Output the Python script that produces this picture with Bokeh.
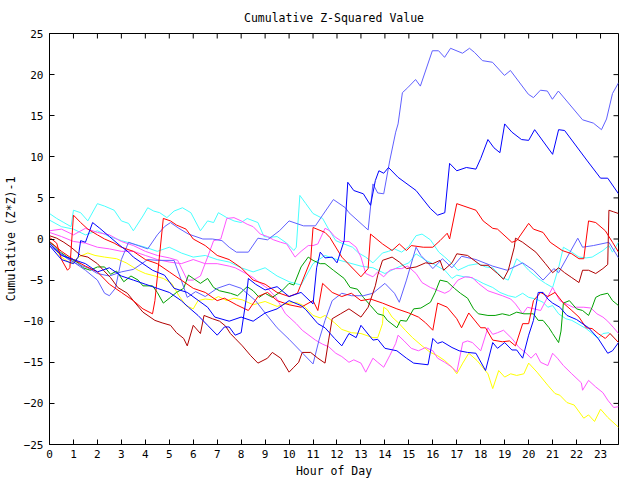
import math
from bokeh.plotting import figure
from bokeh.models import FixedTicker, ColumnDataSource
from bokeh.embed import file_html
from bokeh.resources import INLINE

# ---- data: (hour, cumulative value) vertices ----
hours_blue1 = [0,0.5,1,1.5,2,2.5,3,3.5,4,4.5,5,5.5,5.8,6.2,6.6,7.0,7.3,7.5,7.75,8.0,8.2,8.3,8.6,9,9.5,10,10.5,11.0,11.15,11.3,11.5,11.8,12,12.3,12.45,12.7,13.1,13.4,13.6,13.75,13.95,14.15,14.55,15.3,15.9,16.2,16.5,16.7,17,17.4,17.8,18,18.3,18.55,18.8,19.0,19.3,19.7,20.0,20.25,21.0,21.25,21.5,22.45,23,23.3,23.75]
vals_blue1  = [-0.5,-2,-2.5,-3,-4,-3.5,-4.5,-5,-5.5,-6,-6.5,-7.5,-8.3,-9.3,-10.5,-11.7,-10.7,-10.7,-11.7,-11.4,-7.5,-4.8,-5.5,-6.2,-5.8,-7,-6.5,-7.9,-3.5,-1.6,-2.3,-2.2,-2.9,-0.2,6.9,5.9,5.5,4.1,7.1,8.3,8.0,8.7,7.5,5.9,3.7,2.9,3.2,9.2,8.3,8.7,8.5,9.8,12.1,11.1,10.5,14.0,13.0,12.1,12.0,13.3,10.3,13.3,13.2,9.5,7.4,7.4,5.5]

hours_blue2 = [0,0.5,1.0,1.2,1.3,1.5,1.8,2.1,2.5,2.9,3.3,3.5,4.3,4.8,5.2,5.75,6.6,6.9,7.5,8,8.5,9,9.5,10,10.5,10.7,11.2,11.5,11.9,12.2,12.5,12.8,13,13.5,13.7,14,14.5,14.9,15.2,15.8,16,16.2,16.4,16.8,17.1,17.45,17.8,18.2,18.5,18.7,19,19.3,19.5,19.75,20.0,20.2,20.4,20.6,20.8,21,21.3,21.6,22,22.5,22.9,23.3,23.5,23.75]
vals_blue2  = [-0.8,-2.5,-3.0,-2.2,-0.2,-0.4,2.0,1.3,0.3,-0.7,-1.6,-2.2,-3.8,-4.4,-6.0,-6.5,-8.3,-9.5,-10,-9.5,-10,-9,-8.5,-7.5,-8.1,-8.6,-10.3,-10.8,-12.1,-13.0,-11.5,-12,-10.5,-12.3,-12.2,-13.3,-13.6,-14.5,-15.1,-15.3,-12.1,-12.7,-12.5,-13.2,-13.6,-13.8,-13.9,-16,-12.6,-13.3,-12.6,-13.5,-13.5,-14.5,-11.7,-9.9,-6.5,-6.5,-7.3,-7.8,-8.3,-9.3,-9.8,-10.8,-12.1,-13.9,-13.6,-12.6]

hours_slate1 = [0,0.5,1,1.5,2,2.3,2.5,2.75,3.0,3.3,3.7,4.1,4.5,4.8,5.05,5.4,5.8,6.4,6.8,7.2,7.5,7.8,8.3,8.7,9.1,9.6,10,10.6,11.1,11.4,11.85,12.35,12.5,13.3,13.5,13.7,13.95,14.2,14.45,14.55,14.73,14.95,15.28,15.48,15.98,16.24,16.49,16.74,17.24,17.53,17.74,18.07,18.49,18.99,19.24,19.99,20.2,20.49,20.78,20.99,21.24,22.25,22.7,23.04,23.25,23.5,23.75]
vals_slate1  = [-0.6,-1.8,-2.8,-3.8,-5.0,-6.6,-6.9,-6.0,-2.5,-0.4,-0.8,-1.2,0.5,1.5,2.0,1.3,0.6,0,0,-0.2,-1,-1.6,-1.6,0.1,-0.1,1.0,2.2,1.6,1.6,2.9,4.8,3.8,3.2,1.1,6.7,5.6,5.5,9.5,13,14,17.8,18.4,19.4,18.6,22.9,22.9,22.1,23.2,22.6,23.2,22.7,21.7,21.5,19.9,20.5,17.6,17.2,18.1,18.0,17.0,18.0,14.5,14.1,13.3,14.6,17.7,19.0]

hours_slate2 = [0,0.4,0.8,1.2,1.6,2,2.5,3,3.5,4.1,4.5,5.2,5.5,5.75,6.1,6.5,7,7.5,8,8.6,9,9.5,10,10.5,11,11.25,11.5,11.8,12.2,12.6,13.1,13.5,14,14.4,14.6,14.9,15.3,15.5,15.7,16,16.4,16.8,17.2,17.8,18.5,19.1,19.75,20.2,20.6,21.05,21.25,22.05,22.25,22.7,23.35,23.75]
vals_slate2  = [-0.8,-1.7,-2.5,-3.1,-3.5,-4.2,-4.5,-4.0,-3.7,-2.5,-2.6,-2.6,-5.0,-7.1,-6.4,-7.0,-6,-5.5,-6.0,-7.5,-9.0,-10.8,-12.2,-13.7,-15.2,-12.3,-9.9,-7.5,-6.6,-6.9,-6.9,-6.6,-5.4,-6.6,-7.7,-5.0,-1.0,-2.0,-2.6,-3.6,-2.4,-3.5,-2.1,-2.5,-3.3,-3.8,-2.9,-3.8,-5.0,-3.6,-4.1,0.1,-1.0,-0.8,-0.4,-2.3]

hours_red1 = [0,0.5,1,1.5,2,2.5,3,3.5,3.9,4.3,4.4,4.75,5.05,5.3,5.7,6,6.5,7,7.5,8,8.5,9,9.5,10,10.35,10.9,11,11.5,11.7,12.2,13,13.3,13.4,13.9,14.3,14.6,14.9,15.1,15.6,16,16.3,16.6,16.7,17,17.3,17.8,18.1,18.5,18.7,19.3,19.5,20,20.2,20.6,20.9,21.4,21.8,22.1,22.3,22.5,22.8,23.2,23.5,23.75]
vals_red1  = [-0.3,-1.5,-2.5,-3.3,-4,-5.5,-6.5,-7.5,-8.5,-9.1,-7.5,2.5,2.2,1.7,1.2,0,-0.8,-2,-2.5,-3.5,-5,-5.5,-6.5,-7,-6.6,-2.6,1.4,0.8,0.2,-2.2,-4.6,-3.6,0.6,-0.6,-1.4,-0.6,-1.4,-0.8,-1.0,-1.0,-0.2,0.7,0,4.3,4.0,3.5,2.2,1.3,1.2,-0.4,-0.2,1.9,1.2,0.8,-0.4,-1.4,-1.8,-2.4,-2.4,2.2,2.0,1.0,-0.4,-1.6]

hours_red2 = [0,0.3,0.5,0.75,0.85,1.0,1.3,1.6,2,2.3,2.7,3,3.5,4,4.5,5,5.5,6,6.5,7,7.3,7.8,8.3,8.7,9.1,9.5,10,10.5,11,11.2,11.4,11.8,12.2,12.6,13,13.4,13.9,14.5,15,15.4,15.7,16,16.2,16.6,17,17.2,17.5,18,18.2,18.5,18.9,19.2,19.45,19.75,20,20.2,20.5,20.8,21.1,21.45,21.8,22.1,22.4,22.65,22.9,23.2,23.4,23.75]
vals_red2  = [0.2,-0.5,-2.5,-3.8,-3.5,2.9,2.0,1.2,0.5,0,-0.5,-1,-1.5,-2.5,-3,-4,-5,-6,-6.5,-7.5,-7.2,-8,-8.7,-7,-6.5,-7.5,-8,-8.3,-7.5,-8.7,-5.4,-6.5,-7,-6.6,-7.5,-7.3,-7.8,-8.5,-9,-9.5,-10.2,-11.1,-7.8,-8.3,-9.7,-10.8,-9.0,-10.8,-10.8,-12.3,-12.5,-12.4,-13,-10.3,-10.3,-7.5,-6.5,-7,-6.5,-7.8,-8.7,-9.5,-10.8,-10.9,-11.5,-12.1,-11.5,-12.6]

hours_darkred = [0,0.3,0.6,0.9,1.3,1.6,2,2.25,2.55,2.85,3.25,3.5,3.9,4.4,4.7,5.05,5.3,5.6,5.75,6,6.3,6.45,6.8,7.1,7.35,7.55,7.75,8.05,8.4,8.7,9.1,9.3,9.65,10,10.2,10.4,10.55,10.9,11.2,11.5,11.65,11.8,12.15,12.5,13,13.3,13.6,13.7,13.9,14.3,14.6,14.9,15.3,15.7,16,16.3,16.45,16.8,17,17.45,18,18.3,18.7,18.95,19.15,19.4,19.45,19.75,20.3,20.7,21,21.25,21.5,21.8,22.1,22.25,22.5,22.8,23.1,23.3,23.35,23.55,23.75]
vals_darkred  = [0.4,0.1,-0.4,-1,-2,-2.2,-3,-3.8,-4.7,-5.9,-6.6,-7.5,-8.9,-9.9,-10.2,-10.5,-11.4,-12.1,-13,-10.5,-11.5,-9.3,-9.7,-10,-10.6,-11.5,-12.1,-13,-14.2,-15.1,-14.5,-13.8,-14.5,-16.2,-15.6,-15,-13.8,-13.8,-14.5,-15.1,-12.3,-9.7,-9.1,-8.5,-9.5,-8.3,-5.7,-4.4,-2.6,-2.2,-2.8,-3.6,-3.4,-2.9,-3.0,-2.6,-3.8,-2.9,-1.8,-2.0,-3.2,-3.2,-4.2,-4.9,-3.8,-1.0,0.1,-0.4,-1.6,-3,-4.1,-3.5,-4.1,-4.7,-5.3,-3.8,-3.8,-4.2,-3.6,-3.1,3.5,3.3,3.1]

hours_green = [0,0.2,0.45,0.75,1,1.2,1.4,1.7,2,2.3,2.55,2.8,3.1,3.4,3.7,3.9,4.3,4.5,4.75,5.05,5.3,5.6,5.8,6,6.3,6.6,6.85,7.1,7.55,7.85,8.25,8.5,8.75,9,9.3,9.7,10,10.2,10.5,10.8,11,11.3,11.5,11.85,12.3,12.55,12.85,13.1,13.4,13.7,13.95,14.1,14.5,14.65,14.9,15.2,15.5,15.9,16.1,16.3,16.6,16.9,17.15,17.45,17.7,17.9,18.3,18.6,18.9,19.2,19.5,19.8,20.2,20.4,20.6,20.85,21,21.25,21.35,21.45,21.7,22,22.25,22.5,22.65,22.8,23,23.3,23.5,23.75]
vals_green  = [-0.4,-0.8,-1.6,-2.2,-2.6,-2.9,-3.5,-3.8,-3.4,-3.4,-4.3,-3.9,-5.2,-4.5,-5.0,-5.7,-5.7,-6.5,-7.8,-7.1,-6.5,-6,-4.4,-4.8,-5.4,-4.8,-5.9,-6.3,-6.6,-6.9,-5.8,-6.3,-7.1,-6.6,-7.1,-6.3,-5.4,-5.6,-3.4,-2.2,-2.6,-3.0,-3.0,-3.8,-4.8,-5.9,-6.1,-7.1,-8.1,-9.1,-9.3,-9.9,-10.8,-9.9,-10.0,-8.5,-8.4,-7.7,-6.5,-5.0,-5.2,-6.0,-6.6,-7.2,-8.5,-9.1,-9.3,-9.3,-9.1,-9.3,-8.9,-9.1,-9.1,-9.9,-9.9,-10.8,-11.5,-12.6,-11.2,-7.8,-7.5,-8.5,-8.7,-9.3,-8.3,-7.1,-6.8,-6.6,-7.5,-8.1]

hours_yellow = [0,0.5,0.9,1.2,1.6,1.9,2.3,2.8,3.2,3.7,4,4.4,4.75,5.1,5.4,5.7,6,6.2,6.5,6.8,7.05,7.4,7.7,8.05,8.5,9,9.5,10,10.3,10.6,11,11.3,11.5,11.9,12.2,12.6,13,13.5,13.7,13.9,13.95,14.1,14.3,14.6,14.85,15.15,15.55,15.9,16.2,16.5,16.8,17,17.25,17.5,17.85,18.3,18.5,18.75,19,19.25,19.5,19.8,20,20.35,20.8,21.1,21.3,21.6,21.9,22.3,22.5,22.75,23,23.3,23.75]
vals_yellow  = [-0.5,-2.2,-3,-2.2,-1.7,-2,-2.2,-2.4,-2.9,-3.8,-4.2,-4.5,-4.8,-5.4,-6.9,-8.1,-8.5,-7.5,-7.3,-7.4,-7,-7.5,-7.2,-7.4,-8,-7.6,-8.2,-7.8,-7.7,-8.1,-9.3,-9.6,-9.3,-10.2,-11,-11.4,-11.5,-12,-12,-10.3,-8.3,-8.6,-9.5,-10.3,-11.1,-12,-13,-13.8,-14.2,-14.8,-15.6,-16.4,-15.1,-13.9,-14.8,-16.4,-18.2,-16,-16.8,-16.4,-16.6,-16.4,-15.1,-16.2,-17.8,-18.8,-19,-19.9,-20.2,-21.8,-21.4,-22.2,-20.7,-21.7,-22.9]

hours_cyan1 = [0,0.3,0.6,0.9,1.0,1.3,1.6,2.0,2.3,2.7,3.0,3.3,3.5,3.9,4.1,4.35,4.6,4.9,5.2,5.55,5.9,6.3,6.6,6.85,7.05,7.4,7.7,8.0,8.25,8.7,8.95,9.2,9.5,9.9,10.2,10.3,10.45,10.7,11,11.4,11.65,11.95,12.2,12.65,12.9,13.2,13.5,13.9,14.15,14.4,14.7,15,15.3,15.55,15.9,16.25,16.5,16.8,17.05,17.5,17.9,18.2,18.5,18.9,19.15,19.5,19.75,20,20.4,20.7,21,21.25,21.45,21.8,22.1,22.4,22.65,23.1,23.35,23.5,23.75]
vals_cyan1  = [3.1,2.5,2.0,1.5,3.5,3.2,2.2,4.3,4.0,3.5,2.2,1.9,1.0,2.8,3.8,3.4,3.2,2.6,3.4,3.8,3.2,1.0,2.2,2.0,3.2,2.6,2.2,2.0,2.5,2.0,0.3,0.2,0.3,-0.5,-1.4,-1.0,5.3,4.3,3.1,2.5,1.2,-0.2,-0.5,-1.0,-1.7,-2.2,-2.9,-1.7,-1.5,-1.2,-1.6,-0.9,0.4,0.6,-0.1,-1.6,-2.2,-3,-3.8,-3.2,-3.0,-3.4,-3.5,-4.7,-5.0,-2.4,-3.0,-3.8,-4.8,-5.4,-5.9,-3.5,-1.0,-1.6,-2.2,-2.3,-2.2,-1.4,-0.8,-1.6,-0.4]

hours_cyan2 = [0,0.5,1,1.5,2,2.5,3,3.5,4,4.5,5,5.5,6,6.5,7,7.5,8,8.5,9,9.5,10,10.5,11,11.5,12,12.5,13,13.5,14,14.5,15,15.3,15.7,16,16.3,16.5,16.8,17.0,17.3,17.5,17.85,18.1,18.5,18.8,19.15,19.45,19.75,20,20.3,20.6,20.8,21,21.25,21.55,21.8,22.1,22.4,22.65,22.9,23.1,23.35,23.55,23.75]
vals_cyan2  = [2.3,1.5,1.2,0.5,1,0.3,-0.2,-0.6,-1,-1.5,-1,-1.7,-2.2,-2,-2.5,-2.8,-3.5,-4,-3.5,-4.5,-5.2,-5.6,-3,-2,-2.5,-2.9,-3.3,-3.5,-4.2,-3.5,-2.9,-1.8,-2.6,-3,-3.5,-3.8,-4.8,-4.4,-4.6,-4.6,-5.0,-5.4,-5.9,-6.5,-6.9,-7.1,-6.6,-7.1,-7.3,-7.7,-8.3,-8.1,-9.1,-9.7,-9.9,-10.4,-10.9,-11.5,-12.1,-11.5,-11.4,-12,-12.6]

hours_magenta1 = [0,0.5,1,1.5,2,2.5,3,3.5,4,4.5,5,5.35,5.75,6,6.3,6.6,6.85,7.15,7.4,7.7,8,8.25,8.5,8.8,9.1,9.35,9.65,9.9,10.25,10.5,10.8,11,11.2,11.5,11.7,11.9,12.2,12.5,12.8,13,13.2,13.5,13.7,13.95,14.2,14.45,14.7,14.95,15.3,15.55,15.9,16.25,16.5,16.7,17.05,17.35,17.65,17.9,18.3,18.9,19.25,19.45,19.75,19.95,20.5,21,21.3,21.85,22.3,22.6,22.85,23.1,23.3,23.55,23.75]
vals_magenta1  = [1,1.2,0.5,1.3,0.8,0.5,-0.3,-0.8,-1.5,-2,-2.3,-2.6,-5.0,-5.0,-4.5,-2.2,-0.2,0,2.5,2.6,2.2,1.8,1.5,0.6,0.3,-0.1,-0.4,-0.6,-2.2,-1.5,-0.8,-0.8,-0.6,1.3,1.0,0.3,-0.3,-0.3,-1.0,-2.2,-4.2,-4.6,-4.0,-4.6,-3.8,-3.6,-3.6,-3.3,-4.2,-5.3,-5.9,-6.3,-6.6,-6.3,-5.0,-4.6,-4.7,-5.4,-6.3,-6.9,-7.3,-7.9,-9.1,-8.3,-8.7,-5.9,-7.5,-8.3,-8.3,-8.4,-9.1,-9.5,-10,-10.8,-11.5]

hours_magenta2 = [0,0.5,1,1.5,2,2.5,3,3.5,4,4.5,5,5.5,6,6.5,7,7.5,7.75,8.2,8.5,8.8,9.1,9.45,9.85,10.3,10.55,11.1,11.4,11.65,11.95,12.2,12.5,12.7,13,13.2,13.5,13.7,13.95,14.2,14.45,14.55,14.8,15.1,15.4,15.7,16,16.2,16.5,16.8,17,17.25,17.45,17.65,18,18.3,18.5,18.7,18.95,19.3,19.6,19.9,20.1,20.3,20.5,20.8,21,21.2,21.45,21.8,22.2,22.25,22.5,22.8,23.1,23.3,23.55,23.75]
vals_magenta2  = [0.8,0.3,-0.3,-0.5,-1,-1.2,-1.5,-1.5,-2,-2.5,-2.8,-3,-2.5,-3,-3,-3.3,-3.5,-4.2,-4.7,-5.4,-6,-7.1,-9.1,-10.3,-11.1,-12.3,-12.8,-13.1,-13.9,-14.3,-15,-14.7,-15.1,-16.2,-14.5,-15,-15.6,-14.2,-12.7,-11.7,-12.4,-13.3,-13.6,-13.2,-13.6,-14.5,-15,-15.6,-16.2,-12.6,-12.4,-12.6,-13.6,-10.8,-11.6,-11.4,-11.1,-12.1,-13.2,-13.9,-14.5,-13.9,-15,-15.4,-13.9,-14.5,-15.4,-16.4,-17.5,-18.4,-17.2,-18,-18.7,-19.6,-20.5,-20.4]

series = [
    (hours_cyan1, vals_cyan1, "#48ffff"),
    (hours_cyan2, vals_cyan2, "#48ffff"),
    (hours_yellow, vals_yellow, "#ffff00"),
    (hours_magenta1, vals_magenta1, "#ff55ff"),
    (hours_magenta2, vals_magenta2, "#ff55ff"),
    (hours_green, vals_green, "#00a000"),
    (hours_slate1, vals_slate1, "#6060ff"),
    (hours_slate2, vals_slate2, "#6060ff"),
    (hours_darkred, vals_darkred, "#b00000"),
    (hours_red1, vals_red1, "#ff0000"),
    (hours_red2, vals_red2, "#ff0000"),
    (hours_blue1, vals_blue1, "#0000ff"),
    (hours_blue2, vals_blue2, "#0000ff"),
]

x_ticks = list(range(0, 24))
y_ticks = list(range(-25, 30, 5))
x_min, x_max = 0, 23.75
y_min, y_max = -25, 25

FONT = "DejaVu Sans Mono"

p = figure(width=640, height=480, x_range=(x_min, x_max), y_range=(y_min, y_max),
           output_backend="svg", toolbar_location=None,
           min_border_left=49, min_border_right=22, min_border_top=33, min_border_bottom=36)
p.title.text = "Cumulative Z-Squared Value"
p.title.align = "center"
p.title.text_font = FONT
p.title.text_font_size = "11.5px"
p.title.text_font_style = "normal"
p.title.text_color = "black"
p.title.standoff = 17
p.grid.visible = False
p.outline_line_color = "black"
p.outline_line_alpha = 1.0
p.background_fill_color = "white"
p.border_fill_color = "white"

for hx, vy, col in series:
    src = ColumnDataSource(dict(x=hx, y=vy))
    p.line("x", "y", source=src, line_color=col, line_width=1)

# inward tick marks on the top and right edges of the frame
p.ray(x=x_ticks, y=[y_max] * len(x_ticks), length=5, length_units="screen",
      angle=-math.pi / 2, line_color="black", line_width=1)
p.ray(x=[x_max] * len(y_ticks), y=y_ticks, length=5, length_units="screen",
      angle=math.pi, line_color="black", line_width=1)

def style_axis(ax):
    ax.major_tick_in = 5
    ax.major_tick_out = 0
    ax.minor_tick_line_color = None
    ax.axis_line_color = "black"
    ax.major_tick_line_color = "black"
    ax.major_label_text_font = FONT
    ax.major_label_text_font_size = "11px"
    ax.major_label_text_color = "black"
    ax.axis_label_text_font = FONT
    ax.axis_label_text_font_size = "11.5px"
    ax.axis_label_text_font_style = "normal"
    ax.axis_label_text_color = "black"

p.xaxis.ticker = FixedTicker(ticks=x_ticks)
p.yaxis.ticker = FixedTicker(ticks=y_ticks)
p.xaxis.axis_label = "Hour of Day"
p.yaxis.axis_label = "Cumulative (Z*Z)-1"
style_axis(p.xaxis[0])
style_axis(p.yaxis[0])
p.xaxis.major_label_standoff = 5
p.yaxis.major_label_standoff = 6
p.xaxis.axis_label_standoff = 3
p.yaxis.axis_label_standoff = 3

open("out.html", "w").write(file_html(p, INLINE))
